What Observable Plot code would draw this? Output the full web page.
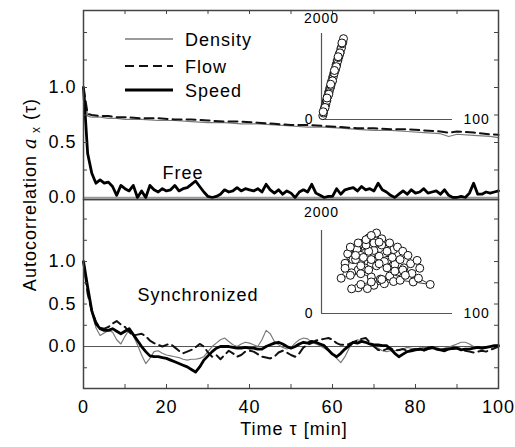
<!DOCTYPE html>
<html><head><meta charset="utf-8">
<script src="https://cdn.jsdelivr.net/npm/d3@7"></script>
<script src="https://cdn.jsdelivr.net/npm/@observablehq/plot@0.6"></script>
<style>
body{margin:0;background:#fff}
#c{position:relative;width:515px;height:447px;background:#fff;overflow:hidden}
#c svg{position:absolute;background:transparent;font-family:"Liberation Sans",Arial,sans-serif;letter-spacing:1px;overflow:visible}
</style></head><body><div id="c"></div>
<script>
// ---------- data ----------
const seriesNames = ["Density", "Flow", "Speed"];
const xMajor = [0, 20, 40, 60, 80, 100];
const xMinor = [10, 20, 30, 40, 50, 60, 70, 80, 90];
const yMajor = [0, 0.5, 1.0];
const yMinorTop = [0.25, 0.5, 0.75, 1.0, 1.25, 1.5];
const yMinorBot = [-0.25, 0.25, 0.5, 0.75, 1.0, 1.25, 1.5];
const insetXTicks = ["0", "100"];
const insetYTicks = ["2000"];

// lag (minutes) for the per-minute series
const lags = d3.range(0, 101);

// Free traffic: density and flow (sampled lags)
const freeTimes = [0,1,2,4,6,8,10,14,18,22,26,30,34,38,42,46,50,54,58,62,66,70,74,78,82,86,88,90,94,98,100];
const freeFlow = [1.0,0.76,0.75,0.74,0.74,0.73,0.73,0.72,0.72,0.71,0.71,0.70,0.69,0.69,0.68,0.67,0.66,0.66,0.65,0.64,0.63,0.63,0.62,0.62,0.61,0.60,0.59,0.60,0.59,0.575,0.57];
const freeDensity = [1.0,0.74,0.73,0.73,0.72,0.72,0.71,0.71,0.70,0.70,0.69,0.68,0.68,0.67,0.67,0.66,0.65,0.64,0.64,0.63,0.62,0.61,0.61,0.60,0.59,0.58,0.555,0.575,0.565,0.555,0.545];
const freeSpeed = [
 1.0,0.40,0.22,0.13,0.16,0.13,0.14,0.10,0.02,0.11,
 0.08,0.06,0.11,0.0,0.06,0.0,0.11,0.07,0.05,0.08,
 0.06,0.07,0.11,0.06,0.08,0.09,0.12,0.15,0.10,0.05,
 0.01,0.0,0.01,0.03,0.07,0.05,0.06,0.09,0.06,0.08,
 0.07,0.06,0.08,0.05,0.12,0.07,0.04,0.07,0.03,0.06,
 0.04,0.0,0.05,0.07,0.05,0.12,0.04,0.02,0.0,0.01,
 0.01,0.08,0.03,0.07,0.08,0.09,0.06,0.10,0.07,0.08,
 0.06,0.13,0.07,0.05,0.02,0.0,0.03,0.06,0.03,0.07,
 0.04,0.05,0.08,0.04,0.05,0.06,0.03,0.07,0.02,0.0,
 0.0,0.01,0.0,0.04,0.13,0.03,0.03,0.05,0.04,0.05,
 0.06];

// Synchronized traffic (per minute)
const syncSpeed = [
 1.0,0.70,0.42,0.27,0.21,0.19,0.19,0.21,0.18,0.15,
 0.18,0.21,0.14,0.07,0.0,-0.06,-0.11,-0.12,-0.12,-0.13,
 -0.14,-0.16,-0.18,-0.20,-0.22,-0.24,-0.27,-0.30,-0.24,-0.16,
 -0.11,-0.06,-0.02,0.0,0.0,0.0,-0.01,-0.02,-0.02,-0.01,
 -0.02,-0.02,-0.03,-0.03,0.0,0.02,0.04,0.05,0.03,0.0,
 -0.02,0.0,0.03,0.05,0.04,0.06,0.05,0.03,0.01,-0.04,
 -0.09,-0.12,-0.08,-0.03,0.01,0.05,0.04,0.06,0.05,0.03,
 0.02,0.02,0.01,0.01,-0.03,-0.08,-0.12,-0.09,-0.06,-0.05,
 -0.04,-0.03,-0.04,-0.02,-0.01,-0.03,-0.04,-0.05,-0.03,-0.02,
 -0.02,-0.04,-0.03,-0.03,-0.02,-0.01,-0.02,-0.01,0.0,0.01,
 0.01];
const syncDensity = [
 1.0,0.66,0.40,0.22,0.13,0.16,0.19,0.17,0.08,0.03,
 0.12,0.20,0.13,0.02,-0.10,-0.20,-0.14,-0.06,-0.05,-0.08,
 -0.10,-0.11,-0.12,-0.13,-0.15,-0.16,-0.15,-0.15,-0.14,-0.12,
 -0.06,0.0,0.04,0.08,0.10,0.06,0.02,0.0,0.03,0.05,
 0.04,0.02,0.0,0.08,0.19,0.15,0.06,0.02,-0.01,-0.03,
 -0.01,0.04,0.08,0.10,0.09,0.05,0.03,0.01,-0.02,-0.05,
 -0.09,-0.14,-0.19,-0.12,-0.02,0.05,0.08,0.07,0.05,0.02,
 0.0,-0.02,-0.05,-0.06,-0.05,-0.05,-0.04,-0.03,-0.01,-0.02,
 -0.03,-0.02,-0.01,-0.01,-0.02,-0.01,-0.03,-0.02,-0.01,0.01,
 0.03,0.05,0.05,0.03,0.0,-0.02,-0.03,-0.02,0.0,0.01,
 0.02];
const syncFlow = [
 1.0,0.62,0.42,0.29,0.22,0.21,0.23,0.27,0.30,0.26,
 0.23,0.17,0.13,0.14,0.15,0.12,0.07,0.04,0.02,0.0,
 0.02,0.03,-0.01,-0.05,-0.08,-0.06,-0.04,-0.01,0.03,0.0,
 -0.07,-0.12,-0.10,-0.15,-0.10,-0.05,-0.08,-0.12,-0.10,-0.06,
 -0.05,-0.06,-0.09,-0.12,-0.13,-0.14,-0.12,-0.07,-0.05,-0.07,
 -0.10,-0.12,-0.08,-0.01,0.02,0.04,0.07,0.08,0.09,0.10,
 0.08,0.04,0.02,0.02,0.03,0.05,0.07,0.09,0.10,0.05,
 0.0,-0.04,-0.05,-0.03,-0.02,-0.05,-0.04,-0.03,-0.05,-0.04,
 -0.03,-0.04,-0.05,-0.03,-0.02,-0.03,-0.04,-0.03,-0.02,-0.03,
 -0.02,-0.03,-0.05,-0.06,-0.07,-0.06,-0.05,-0.06,-0.04,-0.02,
 0.0];

// Insets: flow (veh/h) vs density (veh/km)
const freeInsetDensity = [1,1.5,2,2.4,2.8,3.3,3.7,4.1,4.6,5,5.5,5.9,6.3,6.8,7.2,7.6,8.1,8.5,9,9.4,9.8,10.3,10.7,11.1,11.6,12,12.5,12.9,13.4,13.8,14.3,14.8,15.3,15.8,16.3,16.8,15.6,14.1,12.7,11.3,9.9,8.4,7,5.6,4.2,2.7,1.3];
const freeInsetFlow = [90,150,240,260,330,350,430,440,540,550,640,650,730,740,790,880,880,980,990,1080,1080,1170,1160,1270,1270,1360,1370,1440,1470,1540,1560,1650,1670,1760,1800,1880,1780,1550,1460,1230,1140,900,820,590,500,280,180];
const syncInsetDensity = [18,22,28,33,38,42,36,31,27,20,24,30,35,40,45,50,55,48,43,38,33,28,23,18,15,22,30,38,45,52,58,63,68,73,75,69,62,56,50,44,40,42,46,52,58,62,66,60,54,48,42,36,30,26,30,36,34,40,46,50,55,48,40,35,28,23,30,38,46,60,70,83,74,64,56,50,44,38,32,26,22,28,34,38,44];
const syncInsetFlow = [1210,1380,1520,1450,1600,1750,1820,1690,1540,1440,1300,1250,1380,1450,1560,1620,1540,1430,1330,1200,1100,1050,980,1090,850,920,960,880,830,900,1000,1100,1200,1280,1090,965,1050,1180,1280,1380,1520,1940,1800,1700,1600,1500,1400,1300,1350,1250,1150,1050,1150,1300,1400,1500,1650,1700,1650,1500,770,720,680,600,620,595,700,760,820,800,760,700,850,920,1020,1100,1200,1300,1350,1400,1600,1700,1780,1880,1720];

// ---------- drawing ----------
const c = document.getElementById("c");
const place = (svg, left, top) => { svg.style.left = left + "px"; svg.style.top = top + "px"; c.appendChild(svg); return svg; };
const PW = 415; // inner width of the panels
const PH = 189; // inner height of each panel
const fmt = d3.format(".1f");
const tickStroke = "#444";
const densStyle = {stroke: "#7a7a7a", strokeWidth: 1.2};
const flowStyle = {stroke: "#111", strokeWidth: 2, strokeDasharray: "9,5"};
const speedStyle = {stroke: "#000", strokeWidth: 2.8, strokeLinejoin: "round"};

const topSvg = Plot.plot({
  width: 515, height: 447,
  marginLeft: 83, marginRight: 17, marginTop: 10, marginBottom: 248,
  x: {domain: [0, 100], axis: null},
  y: {domain: [-0.018, 1.70], axis: null},
  marks: [
    Plot.ruleY([0], {stroke: "#999", strokeWidth: 1.6}),
    Plot.line(freeDensity, {x: (d, i) => freeTimes[i], y: d => d, ...densStyle}),
    Plot.line(freeFlow, {x: (d, i) => freeTimes[i], y: d => d, ...flowStyle}),
    Plot.line(freeSpeed, {x: (d, i) => lags[i], y: d => d, ...speedStyle}),
    Plot.tickY(yMinorTop, {y: d => d, insetRight: PW - 4, stroke: tickStroke}),
    Plot.tickY(yMinorTop, {y: d => d, insetLeft: PW - 4, stroke: tickStroke}),
    Plot.tickX(xMinor, {x: d => d, insetBottom: PH - 4, stroke: tickStroke}),
    Plot.frame({stroke: "#444", strokeWidth: 1.5}),
    Plot.axisY(yMajor, {tickSize: 0, tickPadding: 7, tickFormat: fmt, fontSize: 18}),
    Plot.text(["Free"], {frameAnchor: "top-left", dx: 79, dy: 156, textAnchor: "start", fontSize: 18})
  ]
});
place(topSvg, 0, 0);

const botSvg = Plot.plot({
  width: 515, height: 447,
  marginLeft: 83, marginRight: 17, marginTop: 199, marginBottom: 59,
  x: {domain: [0, 100], axis: null},
  y: {domain: [-0.494, 1.73], axis: null},
  marks: [
    Plot.ruleY([0], {stroke: "#555", strokeWidth: 1}),
    Plot.line(syncDensity, {x: (d, i) => lags[i], y: d => d, ...densStyle}),
    Plot.line(syncFlow, {x: (d, i) => lags[i], y: d => d, ...flowStyle}),
    Plot.line(syncSpeed, {x: (d, i) => lags[i], y: d => d, ...speedStyle}),
    Plot.tickY(yMinorBot, {y: d => d, insetRight: PW - 4, stroke: tickStroke}),
    Plot.tickY(yMinorBot, {y: d => d, insetLeft: PW - 4, stroke: tickStroke}),
    Plot.tickX(xMinor, {x: d => d, insetTop: PH - 4, stroke: tickStroke}),
    Plot.frame({stroke: "#444", strokeWidth: 1.5}),
    Plot.axisY(yMajor, {tickSize: 0, tickPadding: 7, tickFormat: fmt, fontSize: 18}),
    Plot.axisX(xMajor, {tickSize: 0, tickPadding: 12, fontSize: 18}),
    Plot.text(["Time τ [min]"], {frameAnchor: "bottom", dx: 3, dy: 46, fontSize: 18}),
    Plot.text(["Synchronized"], {frameAnchor: "top-left", dx: 54, dy: 89, textAnchor: "start", fontSize: 18}),
    Plot.text(["Autocorrelation"], {frameAnchor: "top-left", dx: -60, dy: -5, rotate: -90, textAnchor: "middle", fontSize: 18})
  ]
});
place(botSvg, 0, 0);
// y label with italic a and subscript x
d3.select(botSvg).selectAll("text").filter(function() { return this.textContent === "Autocorrelation"; })
  .each(function() {
    const t = d3.select(this);
    t.text(null);
    t.append("tspan").text("Autocorrelation ");
    t.append("tspan").attr("font-style", "italic").attr("font-family", "'DejaVu Serif',serif").text("a");
    t.append("tspan").attr("font-size", 12).attr("dy", 4).text(" x");
    t.append("tspan").attr("dy", -4).text(" (τ)");
  });

function inset(dens, flow, isSync, mTop, plotH) {
  const pts = dens.map((d, i) => ({d, q: flow[i]}));
  return Plot.plot({
    width: 215, height: 135,
    marginLeft: 31, marginRight: 53, marginTop: mTop, marginBottom: 135 - mTop - plotH,
    x: {domain: [0, 100], axis: null},
    y: {domain: [0, 2000], axis: null},
    marks: [
      Plot.ruleX([0], {stroke: "#555", strokeWidth: 1.2}),
      Plot.ruleY([0], {stroke: "#555", strokeWidth: 1.2}),
      Plot.line(pts, {x: "d", y: "q", stroke: "#222", strokeWidth: 0.9}),
      Plot.dot(pts, {x: "d", y: "q", r: 4, fill: "white", stroke: "#111", strokeWidth: 1}),
      Plot.text(insetYTicks, {x: 0, y: d => +d, text: d => d, dy: isSync ? -18 : -15, fontSize: 14}),
      Plot.text([insetXTicks[0]], {x: 0, y: 0, text: d => d, dx: -8, textAnchor: "end", fontSize: 14}),
      Plot.text([insetXTicks[1]], {x: d => +d, y: 0, text: d => d, dx: 11, textAnchor: "start", fontSize: 14})
    ]
  });
}
place(inset(freeInsetDensity, freeInsetFlow, false, 33, 86), 290, 0);
place(inset(syncInsetDensity, syncInsetFlow, true, 35, 83), 290, 195);

// legend
const lg = d3.create("svg").attr("width", 515).attr("height", 120);
const legendStyles = [
  {stroke: "#7a7a7a", w: 1.3, dash: null, y: 39},
  {stroke: "#111", w: 2, dash: "9,5", y: 66},
  {stroke: "#000", w: 2.8, dash: null, y: 90}
];
seriesNames.forEach((name, i) => {
  const s = legendStyles[i];
  lg.append("line").attr("x1", 125).attr("x2", 173).attr("y1", s.y).attr("y2", s.y)
    .attr("stroke", s.stroke).attr("stroke-width", s.w).attr("stroke-dasharray", s.dash);
  lg.append("text").attr("x", 185).attr("y", s.y + 1).attr("dominant-baseline", "central")
    .attr("font-size", 18).text(name);
});
place(lg.node(), 0, 0);
</script></body></html>
